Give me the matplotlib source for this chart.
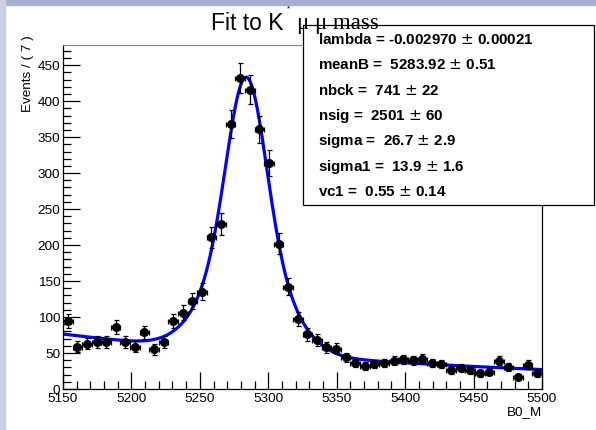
import numpy as np
import matplotlib.pyplot as plt
from matplotlib.patches import Rectangle

plt.rcParams['font.family'] = ['Liberation Sans', 'DejaVu Sans']

# histogram of B0_M, 7 MeV bins from 5150 to 5500
bin_lo = 5150.0
bin_w = 7.0
counts = [94, 59, 63, 65, 65, 86, 65, 59, 79, 55,
          65, 95, 106, 122, 135, 211, 229, 368, 432, 416,
          361, 314, 202, 142, 97, 76, 68, 58, 56, 44,
          36, 32, 35, 36, 39, 41, 40, 42, 36, 35,
          26, 29, 26, 22, 24, 39, 31, 17, 34, 22]

# fit parameters (from the stats box)
par_names = ['lambda', 'meanB', 'nbck', 'nsig', 'sigma', 'sigma1', 'vc1']
par_vals = ['-0.002970', ' 5283.92', ' 741', ' 2501', ' 26.7', ' 13.9', ' 0.55']
par_errs = ['0.00021', '0.51', '22', '60', '2.9', '1.6', '0.14']
lam = -0.002970
meanB = 5283.92
sigma = 26.7
sigma1 = 13.9
vc1 = 0.55
# curve heights
bkg_at_5500 = 27.0
sig_peak = 382.0

counts = np.array(counts, dtype=float)
centers = bin_lo + bin_w * (np.arange(len(counts)) + 0.5)


def model(x):
    g = vc1 / sigma * np.exp(-0.5 * ((x - meanB) / sigma) ** 2) \
        + (1 - vc1) / sigma1 * np.exp(-0.5 * ((x - meanB) / sigma1) ** 2)
    g0 = vc1 / sigma + (1 - vc1) / sigma1
    return sig_peak * g / g0 + bkg_at_5500 * np.exp(lam * (x - 5500))


fig = plt.figure(figsize=(5.96, 4.30), dpi=100)

# window edges of the screenshot
fig.patches.append(Rectangle((0, 1 - 5 / 430), 1, 5 / 430, transform=fig.transFigure,
                             color='#a4afcb', zorder=0))
fig.patches.append(Rectangle((0, 0), 5 / 596, 1, transform=fig.transFigure,
                             color='#c8cfe2', zorder=0))

ax = fig.add_axes([63 / 596, 41 / 430, 479 / 596, 344 / 430])
xs = np.linspace(5150, 5500, 700)
ax.plot(xs, model(xs), color='#0000ff', lw=2.3, zorder=2)
ax.errorbar(centers, counts, xerr=bin_w / 2, yerr=np.sqrt(counts), fmt='o',
            color='black', ms=5.5, elinewidth=0.9, capsize=1.8, capthick=0.9, zorder=3)

ax.set_xlim(5150, 5500)
ax.set_ylim(0, 478)
ax.set_xticks(np.arange(5150, 5501, 50))
ax.set_xticks(np.arange(5150, 5501, 10), minor=True)
ax.set_yticks(np.arange(0, 451, 50))
ax.set_yticks(np.arange(0, 471, 10), minor=True)
ax.tick_params(which='both', direction='in', top=False, right=False, labelsize=9.7)
ax.tick_params(which='major', length=12, width=0.9)
ax.tick_params(which='minor', length=6, width=0.9)
ax.tick_params(axis='x', pad=3)
ax.tick_params(axis='y', pad=2)
for s in ['left', 'bottom', 'right']:
    ax.spines[s].set_linewidth(0.9)
ax.spines['top'].set_color('#888888')

fig.text(28 / 596, 1 - 35 / 430, 'Events / ( 7 )', rotation=90, ha='center', va='top',
         fontsize=9.7)
fig.text(542 / 596, 1 - 412 / 430, 'B0_M', ha='right', va='center', fontsize=9.7)

# title
fig.text(211 / 596, 1 - 30 / 430, 'Fit to K', ha='left', va='baseline', fontsize=16.5)
fig.text(287 / 596, 1 - 10 / 430, '*', ha='left', va='baseline', fontsize=6)
fig.text(297 / 596, 1 - 29 / 430, 'μ μ mass', ha='left', va='baseline', fontsize=16.5,
         family=['Liberation Serif', 'DejaVu Serif'], zorder=7)

# stats box
fig.patches.append(Rectangle((303 / 596, 1 - 205 / 430), 291 / 596, 180 / 430,
                             transform=fig.transFigure, facecolor='white',
                             edgecolor='black', lw=0.9, zorder=5))
for i in range(len(par_names)):
    y = 1 - (40 + 25.3 * i) / 430
    fig.text(318 / 596, y, f'{par_names[i]} = {par_vals[i]} $\\pm$ {par_errs[i]}',
             ha='left', va='center', fontsize=10.9, fontweight='bold', zorder=6)

fig.savefig('out.png', dpi=100)
